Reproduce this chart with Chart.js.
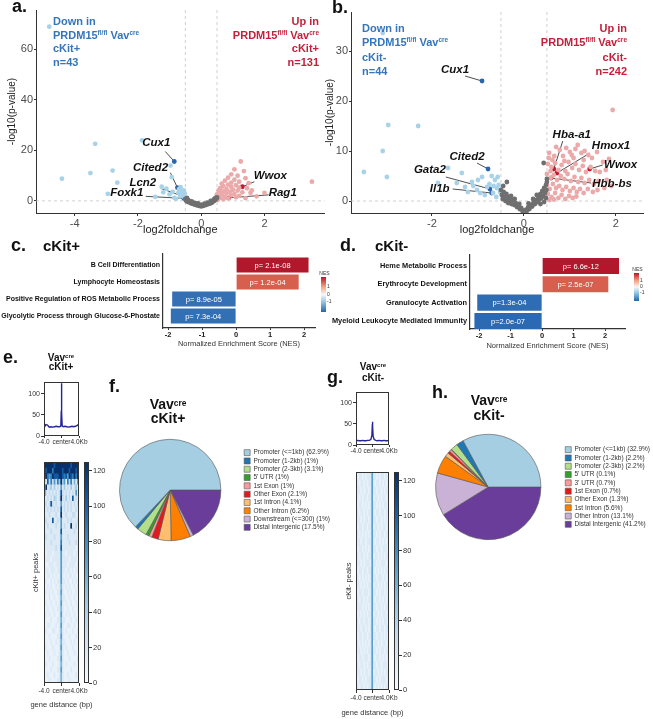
<!DOCTYPE html>
<html>
<head>
<meta charset="utf-8">
<script src="https://cdn.jsdelivr.net/npm/chart.js@4.4.0/dist/chart.umd.min.js"></script>
<style>
  body { margin: 0; background: #fff; }
  #fig { position: relative; width: 653px; height: 719px; overflow: hidden; font-family: 'Liberation Sans', Arial, sans-serif; }
  #fig canvas { position: absolute; }
  .t { position: absolute; font-weight: bold; color: #111; white-space: nowrap; line-height: 1; }
  .t sup { font-size: 60%; vertical-align: top; position: relative; top: -0.15em; }
</style>
</head>
<body>
<div id="fig">
  <canvas id="cA" width="327" height="240" style="left:0;top:0"></canvas>
  <canvas id="cB" width="329" height="240" style="left:324px;top:0"></canvas>
  <canvas id="cC" width="318" height="110" style="left:0;top:240px"></canvas>
  <canvas id="cCL" width="16" height="50" style="left:317px;top:266px"></canvas>
  <canvas id="cD" width="305" height="112" style="left:325px;top:240px"></canvas>
  <canvas id="cDL" width="23" height="43" style="left:630px;top:262px"></canvas>
  <canvas id="cEp" width="80" height="74" style="left:18px;top:376px"></canvas>
  <canvas id="cEh" width="80" height="262" style="left:20px;top:455px"></canvas>
  <canvas id="cEc" width="32" height="235" style="left:80px;top:455px"></canvas>
  <canvas id="cF" width="245" height="120" style="left:95px;top:430px"></canvas>
  <canvas id="cGp" width="80" height="73" style="left:330px;top:386px"></canvas>
  <canvas id="cGh" width="80" height="254" style="left:330px;top:465px"></canvas>
  <canvas id="cGc" width="32" height="232" style="left:390px;top:465px"></canvas>
  <canvas id="cH" width="250" height="124" style="left:410px;top:425px"></canvas>

  <div class="t" style="left:12px;top:-3px;font-size:18px">a.</div>
  <div class="t" style="left:332px;top:-2px;font-size:18px">b.</div>
  <div class="t" style="left:11px;top:236px;font-size:18px">c.</div>
  <div class="t" style="left:43px;top:238px;font-size:15px">cKit+</div>
  <div class="t" style="left:340px;top:236px;font-size:18px">d.</div>
  <div class="t" style="left:375px;top:238px;font-size:15px">cKit-</div>
  <div class="t" style="left:3px;top:348px;font-size:18px">e.</div>
  <div class="t" style="left:31px;top:353px;width:60px;text-align:center;font-size:10px;line-height:9px">Vav<sup>cre</sup><br>cKit+</div>
  <div class="t" style="left:109px;top:377px;font-size:18px">f.</div>
  <div class="t" style="left:138px;top:397px;width:60px;text-align:center;font-size:14px;line-height:14px">Vav<sup>cre</sup><br>cKit+</div>
  <div class="t" style="left:327px;top:368px;font-size:18px">g.</div>
  <div class="t" style="left:343px;top:361px;width:60px;text-align:center;font-size:10px;line-height:11px">Vav<sup>cre</sup><br>cKit-</div>
  <div class="t" style="left:432px;top:383px;font-size:18px">h.</div>
  <div class="t" style="left:459px;top:393px;width:60px;text-align:center;font-size:14px;line-height:15px">Vav<sup>cre</sup><br>cKit-</div>
</div>

<script>
const FONT = "'Liberation Sans', Arial, sans-serif";
Chart.defaults.font.family = FONT;
Chart.defaults.color = '#333';
Chart.defaults.animation = false;
Chart.defaults.responsive = false;
Chart.defaults.plugins.legend.display = false;
Chart.defaults.plugins.tooltip.enabled = false;

// ---------- a. volcano cKit+ ----------
const aGrey = [[-0.5,0.8],[-0.48,0.2],[-0.45,-0.2],[-0.42,0.4],[-0.4,-0.5],[-0.36,-0.3],[-0.33,-0.9],[-0.3,-0.6],
  [-0.27,-1.2],[-0.24,-0.9],[-0.2,-1.5],[-0.17,-1.2],[-0.13,-1.8],[-0.1,-1.5],[-0.06,-2.0],[-0.03,-1.8],[0,-2.2],
  [0.03,-1.9],[0.06,-2.0],[0.1,-1.6],[0.13,-1.7],[0.17,-1.3],[0.2,-1.4],[0.24,-1.0],[0.27,-1.1],[0.3,-0.6],
  [0.33,-0.8],[0.36,-0.3],[0.4,-0.1],[0.43,0.3],[0.46,0.6],[0.49,1.0],[0.5,1.4],[-0.3,-0.2],[-0.2,-0.8],
  [0.2,-0.7],[0.3,0.0],[0.4,0.6],[-0.4,0.2],[-0.45,1.2],[0.45,1.2],[-0.1,-1.0],[0.1,-1.1],[0,-1.5]];
const aDown = [[-4.8,69],[-3.35,22.6],[-4.4,8.8],[-3.5,11],[-2.8,12],[-2.65,7.2],[-2.95,2.8],[-1.87,24],
  [-0.97,14],[-0.93,9.4],[-1.25,5.6],[-1.1,4.8],[-1.45,1.6],[-0.85,1.2],[-0.72,3.2],[-0.62,3.8],[-0.6,2.5],
  [-0.55,4.2],[-0.66,1.8],[-0.58,2.0],[-0.8,0.8],[-1.0,2.6],[-0.7,4.6],[-0.52,3.0],[-0.53,1.4],[-0.9,3.6],
  [-0.65,5.4],[-1.2,3.4]];
const aUp = [[1.25,15.6],[1.05,12.5],[1.35,11.8],[0.95,10.5],[1.15,10],[0.85,9.2],[1.4,9],[1.05,8.4],[0.75,8],
  [1.2,7.6],[0.95,7.2],[1.5,7],[0.65,6.8],[0.85,6.4],[1.1,6.2],[0.7,5.8],[0.95,5.5],[1.2,5.2],[1.45,5],
  [0.6,5],[0.8,4.6],[1.0,4.4],[1.15,4.1],[0.55,4.2],[0.7,3.8],[0.9,3.6],[1.3,3.4],[1.56,3.2],[0.6,3.2],
  [0.8,3.0],[1.05,2.8],[0.5,2.6],[0.65,2.4],[0.95,2.2],[1.2,2.0],[1.75,1.8],[0.55,1.8],[0.75,1.6],[1.1,1.4],
  [0.6,1.2],[0.85,1.0],[1.4,1.1],[0.5,1.0],[0.7,0.6],[3.5,7.6],[2.0,3.2],[1.6,4.2],[0.52,0.3]];
const aHiDownNames = ['Cux1', 'Cited2', 'Lcn2', 'Foxk1'];
const aHiDown = [[-0.85,15.6],[-0.75,5.2],[-0.58,1.8],[-0.55,1.0]];
const aHiUpNames = ['Wwox', 'Rag1'];
const aHiUp = [[1.3,5.6],[0.87,1.2]];
const aXTicks = [-4, -2, 0, 2];
const aYTicks = [0, 20, 40, 60];

// ---------- b. volcano cKit- ----------
const bGrey = [[-0.5,2.2],[-0.48,1.2],[-0.46,0.4],[-0.44,1.8],[-0.42,0.8],[-0.4,0.0],[-0.38,1.4],[-0.36,0.4],
  [-0.34,-0.4],[-0.32,0.8],[-0.3,0.0],[-0.27,-0.6],[-0.24,0.2],[-0.21,-0.8],[-0.18,-0.4],[-0.15,-1.2],
  [-0.12,-1.0],[-0.09,-1.6],[-0.06,-1.4],[-0.03,-2.0],[0,-2.3],[0.03,-1.8],[0.06,-2.0],[0.09,-1.3],
  [0.12,-1.6],[0.15,-0.8],[0.18,-1.1],[0.21,-0.3],[0.24,-0.6],[0.27,0.2],[0.3,-0.2],[0.32,0.8],[0.34,0.3],
  [0.36,1.4],[0.38,0.6],[0.4,2.0],[0.42,1.0],[0.44,2.6],[0.46,1.6],[0.48,3.2],[0.49,2.2],[0.5,3.8],
  [0.5,4.4],[0.48,0.6],[0.44,-0.2],[0.36,-0.6],[-0.37,3.8],[0.43,7.6],[0.2,0.4],[-0.2,0.4],[-0.45,3.0],
  [-0.28,1.0],[0.28,1.2],[-0.1,-0.6],[0.1,-0.5]];
const bDown = [[-3.07,33.6],[-2.95,15.2],[-2.3,15],[-3.07,10],[-3.48,5.8],[-2.98,4.8],[-1.87,3.6],[-1.65,6.6],
  [-1.35,5.6],[-1.13,3.8],[-1.46,3.6],[-0.91,4.8],[-0.7,5.0],[-0.63,4.2],[-0.57,4.8],[-1.02,2.2],[-0.8,2.8],
  [-1.22,1.8],[-0.67,1.6],[-0.59,2.6],[-1.28,2.8],[-0.85,1.2],[-0.6,0.8],[-1.1,3.0],[-1.0,4.2],[-0.75,3.4],
  [-0.55,3.2],[-0.52,1.8],[-0.95,1.6],[-0.66,3.0]];
const bUp = [[0.55,9.6],[0.62,8.2],[0.7,10.8],[0.78,10.2],[0.85,9.0],[0.92,10.6],[1.0,9.8],[1.04,9.2],
  [1.12,10.4],[1.17,11.2],[1.25,9.6],[1.32,10.0],[1.4,9.2],[1.48,8.6],[1.59,9.8],[1.72,7.8],[1.85,8.4],
  [0.52,7.4],[0.6,6.8],[0.68,7.6],[0.75,6.2],[0.82,7.2],[0.9,6.0],[0.97,7.8],[1.05,6.6],[1.12,7.4],[1.2,6.2],
  [1.28,7.0],[1.35,5.8],[1.45,6.8],[1.55,6.0],[1.65,5.8],[1.78,6.2],[0.5,5.4],[0.58,4.6],[0.65,5.2],[0.72,4.2],
  [0.8,5.0],[0.88,4.4],[0.95,5.4],[1.02,4.0],[1.1,4.8],[1.18,3.8],[1.25,4.6],[1.32,3.6],[1.42,4.2],[1.52,3.4],
  [1.62,4.0],[1.8,4.2],[1.9,3.0],[0.5,3.2],[0.56,2.4],[0.63,3.4],[0.7,2.6],[0.77,3.0],[0.84,2.2],[0.92,2.8],
  [1.0,2.0],[1.08,2.6],[1.15,1.8],[1.22,2.4],[1.3,1.6],[1.39,2.4],[1.5,1.8],[1.6,2.2],[1.75,2.6],[0.52,1.4],
  [0.6,0.8],[0.68,1.6],[0.75,0.6],[0.82,1.2],[0.9,0.4],[0.98,1.0],[1.06,0.6],[1.14,0.9],[0.55,0.2],[0.65,0.3],
  [1.93,18.2],[0.58,6.0],[0.66,9.0],[0.88,8.0],[1.08,8.6],[1.3,8.2],[0.54,8.6]];
const bHiDownNames = ['Cux1', 'Cited2', 'Gata2', 'Il1b'];
const bHiDown = [[-0.91,24],[-0.78,6.4],[-0.74,2.4],[-0.7,1.6]];
const bHiUpNames = ['Hba-a1', 'Hmox1', 'Wwox', 'Hbb-bs'];
const bHiUp = [[0.65,6.4],[0.72,5.6],[1.43,6.4],[0.59,4.6]];
const bXTicks = [-2, 0, 2];
const bYTicks = [0, 10, 20, 30];

// ---------- c / d. GSEA NES ----------
const cTerms = ['B Cell Differentiation', 'Lymphocyte Homeostasis', 'Positive Regulation of ROS Metabolic Process', 'Glycolytic Process through Glucose-6-Phostate'];
const cNES = [2.13, 1.84, -1.88, -1.92];
const cP = ['p= 2.1e-08', 'p= 1.2e-04', 'p= 8.9e-05', 'p= 7.3e-04'];
const dTerms = ['Heme Metabolic Process', 'Erythrocyte Development', 'Granulocyte Activation', 'Myeloid Leukocyte Mediated Immunity'];
const dNES = [2.44, 2.1, -2.06, -2.15];
const dP = ['p= 6.6e-12', 'p= 2.5e-07', 'p=1.3e-04', 'p=2.0e-07'];
const nesTicks = [-2, -1, 0, 1, 2];
const nesLegendTicks = [-1, 0, 1];

// ---------- e / g. peak profiles and heatmaps ----------
const profX = [-4,-3.6,-3.2,-2.8,-2.4,-2,-1.6,-1.2,-0.8,-0.4,-0.15,-0.05,0,0.05,0.15,0.4,0.8,1.2,1.6,2,2.4,2.8,3.2,3.6,4];
const eProf = [19,27,26,21,22,21,22,23,22,22,24,60,125,55,24,22,23,22,21,22,23,22,23,25,29];
const gProf = [10,11,10,10,11,10,10,11,11,13,22,45,55,44,21,13,11,10,11,10,10,11,10,10,11];
const profTickVals = [-4, 0, 4];
const profTickText = ['-4.0', 'center', '4.0Kb'];
const profYTicks = [0, 50, 100];
const hmTicks = [0, 20, 40, 60, 80, 100, 120];
// heatmap rows, one digit per column (intensity level 0-9), centre column between bars
const eHeat = [
  '9999998999|9|9999989999', '9899979999|9|8999899989', '7976798889|9|8786987979', '5283736374|9|4617372526',
  '2923424232|6|2423242342', '8323232323|8|3232323262', '3232324323|9|3242328232', '2323832322|6|2323232323',
  '3232323232|8|2323232232', '2223222322|9|2232223322', '2322282232|6|2223232223', '2232222322|6|2322292232',
  '2222322222|8|2222222322', '2322223222|6|2223222222', '2222322222|7|2222322232', '1222222322|8|2222222212',
  '2122212222|6|2212222122', '1222122222|6|2222122221', '2112221222|6|2221222212', '1221222122|6|2212212122',
  '2122121212|6|2121221211', '1211212122|6|2212112121', '1121211212|5|2121211212', '1212121122|6|2112121121',
  '2112112112|5|2211211211', '1211211212|6|2121121121', '1121121122|5|2112112112', '1212112112|6|2121211211',
  '2111211122|5|2211121121', '1122111212|6|2112211211', '1211122112|5|2121112112', '1112111122|6|2111211121',
  '2111211212|5|2211121211', '1211121112|6|2121112111', '1121112112|5|2112111211', '1112111122|6|2111211112',
  '1211121112|5|2121111211', '1111211122|6|2111121111', '1121112112|5|2112111121', '1112111122|5|2111211111'];
const gHeat = [
  '2122121222|6|2212122121', '1212212122|6|2122121212', '2221212212|6|2212212122', '1212122122|6|1221212212',
  '2122121212|6|2212121221', '2212212122|6|2122122122', '1221212212|6|2212212121', '2122122122|6|1221212212',
  '2212121212|6|2212122122', '1221221222|6|2122121212', '2122121212|6|2212212221', '2212212122|6|1221212122',
  '1221212221|6|2212122212', '2122122122|6|2121212122', '2212121212|6|2212221212', '1221212122|6|1221212122',
  '2122122212|6|2212122121', '2212212122|6|2122121212', '1222121212|6|2212212122', '2121212122|6|1221212212',
  '2212212212|6|2212121221', '1221221212|6|2122122122', '2122122122|6|2212212121', '2212121212|6|1221212212',
  '1221212122|6|2212122122', '2122122212|6|2122121212', '2212212122|6|2212212221', '1221212212|6|1221212122',
  '2122121222|6|2212122212', '2212212122|6|2121212122'];
const hmLevelVals = [0, 9, 17, 30, 45, 58, 72, 88, 105, 125];

// ---------- f / h. peak annotation ----------
const fLabels = ['Promoter (<=1kb)', 'Promoter (1-2kb)', 'Promoter (2-3kb)', "5' UTR", '1st Exon', 'Other Exon', '1st Intron', 'Other Intron', 'Downstream (<=300)', 'Distal Intergenic'];
const fVals = [62.9, 1, 3.1, 1, 1, 2.1, 4.1, 6.2, 1, 17.5];
const hLabels = ['Promoter (<=1kb)', 'Promoter (1-2kb)', 'Promoter (2-3kb)', "5' UTR", "3' UTR", '1st Exon', 'Other Exon', '1st Intron', 'Other Intron', 'Distal Intergenic'];
const hVals = [32.9, 2.2, 2.2, 0.1, 0.7, 0.7, 1.3, 5.6, 13.1, 41.2];
const annoColors = ['#a6cee3', '#1f78b4', '#b2df8a', '#33a02c', '#fb9a99', '#e31a1c', '#fdbf6f', '#ff7f00', '#cab2d6', '#6a3d9a'];

// ---------------- helpers ----------------
const bluesStops = ['#f7fbff', '#deebf7', '#c6dbef', '#9ecae1', '#6baed6', '#4292c6', '#2171b5', '#08519c', '#08306b'];
function blues(v) {
  const t = Math.max(0, Math.min(1, v / 125)) * (bluesStops.length - 1);
  const i = Math.min(Math.floor(t), bluesStops.length - 2), f = t - i;
  const a = bluesStops[i], b = bluesStops[i + 1];
  const ch = k => Math.round(parseInt(a.substr(k, 2), 16) * (1 - f) + parseInt(b.substr(k, 2), 16) * f);
  return `rgb(${ch(1)},${ch(3)},${ch(5)})`;
}
const tickList = arr => s => { s.ticks = arr.map(v => ({ value: v })); };

const framePlugin = {
  id: 'frame',
  afterDatasetsDraw(chart) {
    const a = chart.chartArea, ctx = chart.ctx;
    ctx.save();
    ctx.strokeStyle = '#333';
    ctx.lineWidth = 1;
    ctx.strokeRect(Math.round(a.left) + 0.5, Math.round(a.top) + 0.5, Math.round(a.right - a.left) - 1, Math.round(a.bottom - a.top) - 1);
    ctx.restore();
  }
};

// axis caption under a narrow plot (the built-in title would be squeezed to the axis width)
const captionPlugin = {
  id: 'caption',
  afterDraw(chart, args, o) {
    const { ctx, chartArea: a } = chart;
    ctx.save();
    ctx.font = `${o.size}px ${FONT}`;
    ctx.fillStyle = '#333';
    ctx.textAlign = 'center';
    ctx.textBaseline = 'middle';
    ctx.fillText(o.text, (a.left + a.right) / 2, a.bottom + o.dy);
    ctx.restore();
  }
};

const threshPlugin = {
  id: 'thresh',
  beforeDatasetsDraw(chart, args, o) {
    const { ctx, chartArea: a, scales: { x, y } } = chart;
    ctx.save();
    ctx.setLineDash([3, 3]);
    ctx.strokeStyle = '#c4c4c4';
    ctx.lineWidth = 0.8;
    ctx.beginPath();
    o.xs.forEach(v => { const px = x.getPixelForValue(v); ctx.moveTo(px, a.top); ctx.lineTo(px, a.bottom); });
    const py = y.getPixelForValue(o.y);
    ctx.moveTo(a.left, py); ctx.lineTo(a.right, py);
    ctx.stroke();
    ctx.restore();
  }
};

// gene labels + connector lines, anchored on the highlighted points
const genePlugin = {
  id: 'genes',
  beforeDatasetsDraw(chart, args, o) {
    const ctx = chart.ctx;
    ctx.save();
    ctx.strokeStyle = '#3a3a3a';
    ctx.lineWidth = 0.9;
    o.sets.forEach(({ index, names }) => {
      chart.getDatasetMeta(index).data.forEach((pt, i) => {
        const p = o.pos[names[i]];
        ctx.beginPath(); ctx.moveTo(pt.x, pt.y); ctx.lineTo(pt.x + p[2], pt.y + p[3]); ctx.stroke();
      });
    });
    ctx.restore();
  },
  afterDatasetsDraw(chart, args, o) {
    const ctx = chart.ctx;
    ctx.save();
    ctx.font = `italic bold 11.5px ${FONT}`;
    ctx.textAlign = 'center';
    ctx.textBaseline = 'middle';
    ctx.fillStyle = '#111';
    o.sets.forEach(({ index, names }) => {
      chart.getDatasetMeta(index).data.forEach((pt, i) => {
        const p = o.pos[names[i]];
        ctx.fillText(names[i], pt.x + p[0], pt.y + p[1]);
      });
    });
    ctx.restore();
  }
};

function drawRich(ctx, segs, x, y, align, color) {
  const big = `bold 11px ${FONT}`, small = `bold 6.5px ${FONT}`;
  let w = 0;
  segs.forEach(s => { ctx.font = s[1] ? small : big; w += ctx.measureText(s[0]).width; });
  let cx = align === 'right' ? x - w : x;
  ctx.fillStyle = color;
  ctx.textAlign = 'left';
  ctx.textBaseline = 'alphabetic';
  segs.forEach(s => {
    ctx.font = s[1] ? small : big;
    ctx.fillText(s[0], cx, s[1] ? y - 4 : y);
    cx += ctx.measureText(s[0]).width;
  });
}
const blockPlugin = {
  id: 'blocks',
  afterDraw(chart, args, o) {
    const ctx = chart.ctx;
    ctx.save();
    o.blocks.forEach(b => b.lines.forEach((segs, i) => drawRich(ctx, segs, b.x, b.y + i * b.lh, b.align, b.color)));
    ctx.restore();
  }
};

const barLabelPlugin = {
  id: 'barLabels',
  afterDatasetsDraw(chart, args, o) {
    const ctx = chart.ctx;
    ctx.save();
    ctx.font = `7.5px ${FONT}`;
    ctx.fillStyle = '#fff';
    ctx.textAlign = 'center';
    ctx.textBaseline = 'middle';
    chart.getDatasetMeta(0).data.forEach((bar, i) => ctx.fillText(o.labels[i], (bar.x + bar.base) / 2, bar.y + 0.5));
    ctx.restore();
  }
};

const gradPlugin = {
  id: 'grad',
  beforeDatasetsDraw(chart, args, o) {
    const { ctx, chartArea: a, scales: { y } } = chart;
    const g = ctx.createLinearGradient(0, a.bottom, 0, a.top);
    o.stops.forEach(([v, c]) => {
      const f = (y.getPixelForValue(v) - a.bottom) / (a.top - a.bottom);
      g.addColorStop(Math.max(0, Math.min(1, f)), c);
    });
    ctx.save();
    ctx.fillStyle = g;
    ctx.fillRect(a.left, a.top, a.right - a.left, a.bottom - a.top);
    if (o.title) {
      ctx.font = `5px ${FONT}`;
      ctx.fillStyle = '#333';
      ctx.textAlign = 'center';
      ctx.fillText(o.title, (a.left + a.right) / 2 + 1, a.top - 2);
    }
    ctx.restore();
  }
};

// ---------------- volcano plots ----------------
function volcano(id, d) {
  const pts = [
    { data: d.grey, backgroundColor: '#6f6f6f' },
    { data: d.down, backgroundColor: '#a8d2e8' },
    { data: d.up, backgroundColor: '#eba9a9' },
    { data: d.hiDown, backgroundColor: '#2b65ac' },
    { data: d.hiUp, backgroundColor: '#c3172f' }
  ].map(s => Object.assign(s, { pointRadius: 2.4, pointHoverRadius: 2.4, borderWidth: 0 }));
  return new Chart(document.getElementById(id), {
    type: 'scatter',
    data: { datasets: pts },
    options: {
      layout: { padding: { top: d.top, right: d.right, left: 0, bottom: 0 } },
      scales: {
        x: {
          type: 'linear', min: d.xmin, max: d.xmax,
          afterBuildTicks: tickList(d.xTicks),
          afterFit: s => { s.height = d.xh; },
          grid: { drawOnChartArea: false, color: '#333', tickLength: 3 },
          border: { color: '#333', width: 1 },
          ticks: { color: '#4d4d4d', font: { size: 11 }, padding: 1, maxRotation: 0 },
          title: { display: true, text: 'log2foldchange', font: { size: 11 }, color: '#222', padding: { top: 0, bottom: 3 } }
        },
        y: {
          type: 'linear', min: d.ymin, max: d.ymax,
          afterBuildTicks: tickList(d.yTicks),
          afterFit: s => { s.width = d.yw; },
          grid: { drawOnChartArea: false, color: '#333', tickLength: 2 },
          border: { color: '#333', width: 1 },
          ticks: { color: '#4d4d4d', font: { size: 11 }, padding: 1 },
          title: { display: true, text: '-log10(p-value)', font: { size: 10 }, color: '#222', padding: { top: d.ytPad, bottom: 0 } }
        }
      },
      plugins: {
        thresh: { xs: [-0.5, 0.5], y: 0 },
        genes: { sets: [{ index: 3, names: d.hiDownNames }, { index: 4, names: d.hiUpNames }], pos: d.labelPos },
        blocks: { blocks: d.blocks }
      }
    },
    plugins: [threshPlugin, genePlugin, blockPlugin]
  });
}

const blueTxt = '#3576bb', redTxt = '#c41f3b';
const prdm = [['PRDM15'], ['fl/fl', 1], [' Vav'], ['cre', 1]];

volcano('cA', {
  grey: aGrey, down: aDown, up: aUp, hiDown: aHiDown, hiUp: aHiUp,
  hiDownNames: aHiDownNames, hiUpNames: aHiUpNames,
  xmin: -5.22, xmax: 3.9, ymin: -4.8, ymax: 75.6, xTicks: aXTicks, yTicks: aYTicks,
  top: 10, right: 0, xh: 27, yw: 36, ytPad: 6,
  labelPos: { Cux1: [-18, -19, -9, -10], Cited2: [-27, -20, -7, -15], Lcn2: [-40, -14, -22, -8],
    Foxk1: [-57, -6, -38, -2], Wwox: [28, -11, 12, -5], Rag1: [54, -5, 40, -3] },
  blocks: [
    { x: 53, y: 25, lh: 13.7, align: 'left', color: blueTxt, lines: [[['Down in']], prdm, [['cKit+']], [['n=43']]] },
    { x: 319, y: 25, lh: 13.7, align: 'right', color: redTxt, lines: [[['Up in']], prdm, [['cKit+']], [['n=131']]] }
  ]
});

volcano('cB', {
  grey: bGrey, down: bDown, up: bUp, hiDown: bHiDown, hiUp: bHiUp,
  hiDownNames: bHiDownNames, hiUpNames: bHiUpNames,
  xmin: -3.76, xmax: 2.59, ymin: -2.4, ymax: 37.8, xTicks: bXTicks, yTicks: bYTicks,
  top: 12, right: 10, xh: 27, yw: 27, ytPad: 0,
  labelPos: { Cux1: [-27, -11, -17, -5], Cited2: [-21, -12, -11, -6], Gata2: [-60, -19, -44, -12],
    Il1b: [-52, -4, -39, -4], 'Hba-a1': [18, -34, 9, -28], Hmox1: [54, -27, 33, -20],
    Wwox: [31, -4, 13, -4], 'Hbb-bs': [61, 6, 40, 5] },
  blocks: [
    { x: 38, y: 32, lh: 14.3, align: 'left', color: blueTxt, lines: [[['Down in']], prdm, [['cKit-']], [['n=44']]] },
    { x: 303, y: 32, lh: 14.3, align: 'right', color: redTxt, lines: [[['Up in']], prdm, [['cKit-']], [['n=242']]] }
  ]
});

// ---------------- NES bar charts ----------------
function nesBar(id, d) {
  return new Chart(document.getElementById(id), {
    type: 'bar',
    data: {
      datasets: [{
        data: d.nes.map((v, i) => ({ x: v, y: i + 1 })),
        backgroundColor: d.colors, borderWidth: 0, barPercentage: 0.88, categoryPercentage: 1
      }]
    },
    options: {
      indexAxis: 'y',
      layout: { padding: { top: d.top, right: d.right, left: 0, bottom: 0 } },
      scales: {
        y: {
          type: 'linear', reverse: true, min: d.ymin, max: d.ymax, offset: false,
          afterBuildTicks: s => { s.ticks = d.terms.map((t, i) => ({ value: i + 1 })); },
          afterFit: s => { s.width = d.yw; },
          ticks: { callback: v => d.terms[v - 1], color: '#111', font: { size: d.fs, weight: 'bold' }, padding: 3 },
          grid: { display: false, drawTicks: false, tickLength: 0, offset: false },
          border: { color: '#333', width: 1.2 }
        },
        x: {
          type: 'linear', min: d.xmin, max: d.xmax,
          afterBuildTicks: tickList(nesTicks),
          afterFit: s => { s.height = d.xh; },
          ticks: { color: '#222', font: { size: 7.5, weight: 'bold' }, padding: 0, maxRotation: 0 },
          grid: { drawOnChartArea: false, color: '#333', tickLength: 2 },
          border: { color: '#333', width: 1.2 },
          title: { display: true, text: 'Normalized Enrichment Score (NES)', font: { size: 7.5 }, color: '#333', padding: { top: 0, bottom: 2 } }
        }
      },
      plugins: { barLabels: { labels: d.p } }
    },
    plugins: [barLabelPlugin]
  });
}
nesBar('cC', { terms: cTerms, nes: cNES, p: cP, colors: ['#b2182b', '#d6604d', '#3570b5', '#3170b4'], fs: 7,
  xmin: -2.15, xmax: 2.32, ymin: 0.35, ymax: 4.7, top: 14, right: 3, yw: 163, xh: 22 });
nesBar('cD', { terms: dTerms, nes: dNES, p: dP, colors: ['#b2182b', '#d6604d', '#2e6db4', '#2b6ab2'], fs: 7.4,
  xmin: -2.29, xmax: 2.63, ymin: 0.4, ymax: 4.44, top: 15, right: 5, yw: 145, xh: 23 });

function nesLegend(id, pad, w) {
  return new Chart(document.getElementById(id), {
    type: 'scatter',
    data: { datasets: [] },
    options: {
      layout: { padding: pad },
      scales: {
        x: { display: false, min: 0, max: 1 },
        y: {
          position: 'right', min: -2.3, max: 2.3,
          afterBuildTicks: tickList(nesLegendTicks),
          afterFit: s => { s.width = w; },
          ticks: { font: { size: 5 }, color: '#333', padding: 1 },
          grid: { display: false, drawTicks: false }, border: { display: false }
        }
      },
      plugins: { grad: { title: 'NES', stops: [[-2.3, '#2166ac'], [-1, '#92c5de'], [0, '#f7f7f7'], [1, '#f4a582'], [2.3, '#b2182b']] } }
    },
    plugins: [gradPlugin]
  });
}
nesLegend('cCL', { left: 4, top: 11, bottom: 4, right: 0 }, 7);
nesLegend('cDL', { left: 4, top: 11, bottom: 4, right: 0 }, 14);

// ---------------- profiles ----------------
function profile(id, ys, d) {
  return new Chart(document.getElementById(id), {
    type: 'line',
    data: { datasets: [{ data: profX.map((x, i) => [x, ys[i]]), borderColor: '#25259a', borderWidth: 1.4, pointRadius: 0, tension: 0 }] },
    options: {
      layout: { padding: { top: d.top, right: d.right, left: 0, bottom: 0 } },
      scales: {
        x: {
          type: 'linear', min: -4, max: 4,
          afterBuildTicks: tickList(profTickVals),
          afterFit: s => { s.height = d.xh; },
          ticks: { callback: v => profTickText[profTickVals.indexOf(v)], font: { size: 6.5 }, color: '#333', padding: 0, maxRotation: 0, autoSkip: false },
          grid: { drawOnChartArea: false, color: '#333', tickLength: 2 },
          border: { display: false }
        },
        y: {
          min: 0, max: d.ymax,
          afterBuildTicks: tickList(profYTicks),
          afterFit: s => { s.width = d.yw; },
          ticks: { font: { size: 7 }, color: '#333', padding: 1 },
          grid: { drawOnChartArea: false, color: '#333', tickLength: 3 },
          border: { display: false }
        }
      }
    },
    plugins: [framePlugin]
  });
}
profile('cEp', eProf, { top: 6, right: 19, xh: 14, yw: 26, ymax: 128 });
profile('cGp', gProf, { top: 6, right: 21, xh: 14, yw: 26, ymax: 126 });

// ---------------- heatmaps ----------------
function heatmap(id, rows, d) {
  const mat = rows.map(r => r.replace(/\|/g, '').split('').map(Number));
  return new Chart(document.getElementById(id), {
    type: 'bar',
    data: {
      labels: mat[0].map((_, i) => i),
      datasets: mat.map(r => ({
        data: r.map(() => 1),
        backgroundColor: r.map(l => blues(hmLevelVals[l])),
        borderWidth: 0, barPercentage: 1, categoryPercentage: 1, xAxisID: 'x', yAxisID: 'y'
      }))
    },
    options: {
      layout: { padding: { top: d.top, right: d.right, left: 0, bottom: 0 } },
      scales: {
        x: { type: 'category', stacked: true, display: false },
        xd: {
          type: 'linear', position: 'bottom', min: -4, max: 4, offset: false,
          afterBuildTicks: tickList(profTickVals),
          afterFit: s => { s.height = d.xh; },
          ticks: { callback: v => profTickText[profTickVals.indexOf(v)], font: { size: 6.5 }, color: '#333', padding: 1, maxRotation: 0, autoSkip: false },
          grid: { drawOnChartArea: false, color: '#333', tickLength: 3, offset: false },
          border: { display: false }
        },
        y: {
          stacked: true, reverse: true, min: 0, max: mat.length,
          afterFit: s => { s.width = d.yw; },
          ticks: { display: false }, grid: { display: false }, border: { display: false },
          title: { display: true, text: d.title, font: { size: 7.5 }, color: '#333', padding: { top: d.ytPad, bottom: 0 } }
        }
      },
      plugins: { caption: { text: 'gene distance (bp)', size: 7.5, dy: d.capDy } }
    },
    plugins: [framePlugin, captionPlugin]
  });
}
heatmap('cEh', eHeat, { top: 7, right: 21, xh: 34, yw: 24, ytPad: 11, capDy: 22, title: 'cKit+ peaks' });
heatmap('cGh', gHeat, { top: 7, right: 21, xh: 29, yw: 26, ytPad: 14, capDy: 23, title: 'cKit- peaks' });

function heatLegend(id, pad) {
  return new Chart(document.getElementById(id), {
    type: 'scatter',
    data: { datasets: [] },
    options: {
      layout: { padding: pad },
      scales: {
        x: { display: false, min: 0, max: 1 },
        y: {
          position: 'right', min: 0, max: 125,
          afterBuildTicks: tickList(hmTicks),
          afterFit: s => { s.width = 23; },
          ticks: { font: { size: 7.5 }, color: '#333', padding: 1 },
          grid: { drawOnChartArea: false, color: '#333', tickLength: 3 },
          border: { display: false }
        }
      },
      plugins: { grad: { stops: bluesStops.map((c, i) => [i * 125 / (bluesStops.length - 1), c]) } }
    },
    plugins: [gradPlugin, framePlugin]
  });
}
heatLegend('cEc', { left: 4, top: 7, bottom: 7, right: 0 });
heatLegend('cGc', { left: 4, top: 7, bottom: 7, right: 0 });

// ---------------- annotation pies ----------------
function annoPie(id, labels, vals, pad) {
  const names = labels.map((l, i) => `${l} (${vals[i]}%)`);
  return new Chart(document.getElementById(id), {
    type: 'pie',
    data: {
      labels: names.slice().reverse(),
      datasets: [{ data: vals.slice().reverse(), backgroundColor: annoColors.slice().reverse(), borderColor: '#555', borderWidth: 0.6 }]
    },
    options: {
      rotation: 90,
      layout: { padding: pad },
      plugins: {
        legend: {
          display: true, position: 'right', reverse: true,
          labels: { boxWidth: 6, boxHeight: 6, padding: 1.8, font: { size: 6.5 }, color: '#333' }
        }
      }
    }
  });
}
annoPie('cF', fLabels, fVals, { left: 3, top: 9, bottom: 9, right: 0 });
annoPie('cH', hLabels, hVals, { left: 3, top: 9, bottom: 9, right: 0 });
</script>
</body>
</html>
